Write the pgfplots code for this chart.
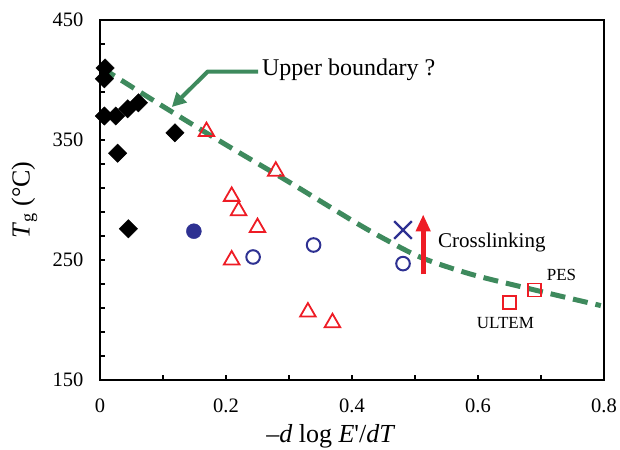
\documentclass[border=0pt]{standalone}
\usepackage{pgfplots}
\pgfplotsset{compat=1.18}
\usepackage{fontspec}
\setmainfont{Liberation Serif}
\usetikzlibrary{arrows.meta}
\definecolor{bgreen}{HTML}{3E8A5D}
\definecolor{bred}{HTML}{EE1C25}
\definecolor{bblue}{HTML}{2E3192}
\begin{document}
\begin{tikzpicture}[x=1pt,y=1pt]
\useasboundingbox (0,0) rectangle (620,449);
\begin{axis}[
  at={(100pt,69pt)}, anchor=south west,
  width=504pt, height=360pt, scale only axis,
  xmin=0, xmax=0.8, ymin=150, ymax=450,
  xtick={0,0.2,0.4,0.6,0.8}, xticklabels={0,0.2,0.4,0.6,0.8},
  minor xtick={0.1,0.3,0.5,0.7},
  ytick={150,250,350,450}, yticklabels={150,250,350,450},
  minor ytick={170,190,210,230,270,290,310,330,370,390,410,430},
  xtick pos=bottom, ytick pos=left, tick align=inside,
  major tick length=5pt, minor tick length=5pt,
  every tick/.style={line width=1.5pt, black},
  every minor tick/.style={line width=1.5pt, black},
  axis line style={line width=1.8pt},
  ticklabel style={font=\fontsize{20.5}{24}\selectfont},
  xticklabel style={yshift=-15pt},
  yticklabel style={xshift=-13pt},
  xlabel={–\textit{d} log \textit{E}\textquotesingle/\textit{dT}},
  ylabel={\textit{T}\textsubscript{g} (°C)},
  xlabel style={font=\fontsize{26}{30}\selectfont, at={(axis description cs:0.458,-0.155)}, anchor=center},
  ylabel style={font=\fontsize{26}{30}\selectfont, at={(axis description cs:-0.15,0.5)}, anchor=center},
  clip=false,
]
% black diamonds
\addplot[only marks, mark=square*, mark size=6.5pt, mark options={rotate=45, fill=black, draw=black}]
  coordinates {(0.008,410) (0.007,401) (0.007,370) (0.025,370) (0.044,376) (0.061,381) (0.028,339) (0.119,356) (0.045,276)};
% filled blue circle
\addplot[only marks, mark=*, mark size=7.5pt, mark options={fill=bblue, draw=bblue}]
  coordinates {(0.149,274)};
% open blue circles
\addplot[only marks, mark=o, mark size=6.8pt, mark options={draw=bblue, line width=2pt}]
  coordinates {(0.243,252.5) (0.339,262.5) (0.481,247)};
% blue cross
\addplot[only marks, mark=x, mark size=12.5pt, mark options={draw=bblue, line width=2.3pt}]
  coordinates {(0.481,275)};
% red triangles
\addplot[only marks, mark=triangle, mark size=9pt, mark options={draw=bred, line width=1.8pt}]
  coordinates {(0.169,357) (0.279,324) (0.209,303) (0.220,291) (0.250,277) (0.209,250) (0.330,206.6) (0.369,197.7)};
% red squares
\addplot[only marks, mark=square, mark size=6.5pt, mark options={draw=bred, line width=1.8pt}]
  coordinates {(0.650,214.7) (0.690,225)};
% upper boundary curve
\addplot[bgreen, line width=5pt, smooth, tension=0.5, dash pattern=on 15pt off 8pt]
  coordinates {(0.003,410) (0.1,378) (0.2,346) (0.3,315) (0.4,283) (0.45,268) (0.51,252) (0.59,238) (0.69,225) (0.795,212)};
% annotations
\draw[bgreen, line width=4pt, -{Triangle[length=14pt, width=14pt]}] (axis cs:0.251,407) -- (axis cs:0.171,407) -- (axis cs:0.114,377.5);
\node[anchor=base west, inner sep=0, font=\fontsize{24}{28}\selectfont] at (axis cs:0.257,403.5) {Upper boundary ?};
\draw[bred, line width=5pt, -{Triangle[length=17pt, width=14pt]}] (axis cs:0.513,238) -- (axis cs:0.513,288);
\node[anchor=base west, inner sep=0, font=\fontsize{21}{25}\selectfont] at (axis cs:0.5365,260.3) {Crosslinking};
\node[anchor=base west, inner sep=0, font=\fontsize{17}{20}\selectfont] at (axis cs:0.709,233.3) {PES};
\node[anchor=base west, inner sep=0, font=\fontsize{17}{20}\selectfont] at (axis cs:0.598,192.5) {ULTEM};
\end{axis}
\end{tikzpicture}
\end{document}
